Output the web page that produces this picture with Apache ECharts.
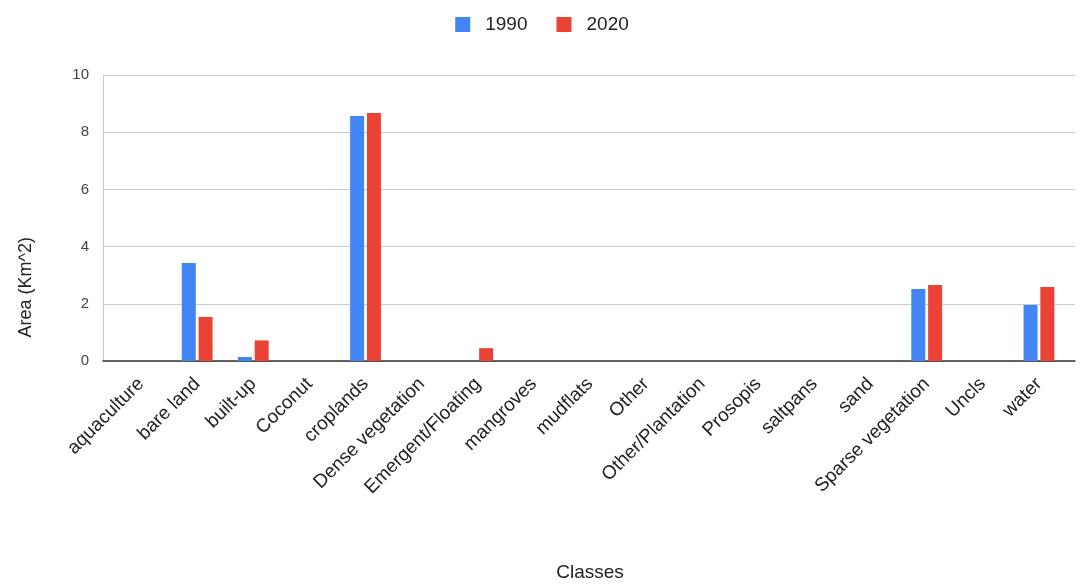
<!DOCTYPE html>
<html>
<head>
<meta charset="utf-8">
<script src="https://cdn.jsdelivr.net/npm/echarts@6/dist/echarts.min.js"></script>
<style>
  html, body { margin: 0; padding: 0; background: #fff; }
  #main { width: 1084px; height: 588px; }
</style>
</head>
<body>
<div id="main"></div>
<script>
var classes = ['aquaculture', 'bare land', 'built-up', 'Coconut', 'croplands', 'Dense vegetation',
    'Emergent/Floating', 'mangroves', 'mudflats', 'Other', 'Other/Plantation', 'Prosopis',
    'saltpans', 'sand', 'Sparse vegetation', 'Uncls', 'water'];
var area1990 = [0, 3.43, 0.14, 0, 8.57, 0, 0, 0, 0, 0, 0, 0, 0, 0, 2.52, 0, 1.96];
var area2020 = [0, 1.54, 0.72, 0, 8.67, 0, 0.45, 0, 0, 0, 0, 0, 0, 0, 2.66, 0, 2.59];
var yTicks = [0, 2, 4, 6, 8, 10];

var font = 'Arial, "Liberation Sans", sans-serif';
var myChart = echarts.init(document.getElementById('main'));

var option = {
    animation: false,
    textStyle: { fontFamily: font },
    legend: {
        top: 10,
        left: 'center',
        itemWidth: 15,
        itemHeight: 15,
        itemGap: 29,
        icon: 'rect',
        textStyle: { fontSize: 19, color: '#222', fontFamily: font, padding: [0, 0, 0, 10] },
        data: ['1990', '2020']
    },
    // outer grid: gridlines and baseline; inner grid: the bars and class labels
    grid: [
        { left: 103, right: 9, top: 75, bottom: 227 },
        { left: 113, right: 17, top: 75, bottom: 227 }
    ],
    graphic: [
        {
            type: 'text',
            left: 17,
            top: 237,
            rotation: Math.PI / 2,
            style: {
                text: 'Area (Km^2)',
                fontSize: 18,
                fontFamily: font,
                fill: '#222'
            }
        }
    ],
    xAxis: [
        {
            type: 'category',
            gridIndex: 0,
            data: classes,
            axisLine: { lineStyle: { color: '#333', width: 1.5 } },
            axisTick: { show: false },
            axisLabel: { show: false }
        },
        {
            type: 'category',
            gridIndex: 1,
            data: classes,
            name: 'Classes',
            nameLocation: 'middle',
            nameGap: 202,
            nameTextStyle: { fontSize: 19, color: '#222', fontFamily: font },
            axisLine: { show: false },
            axisTick: { show: false },
            axisLabel: {
                rotate: 45,
                interval: 0,
                margin: 20,
                fontSize: 19,
                color: '#222',
                fontFamily: font
            }
        }
    ],
    yAxis: [
        {
            type: 'value',
            gridIndex: 0,
            min: yTicks[0],
            max: yTicks[yTicks.length - 1],
            interval: 2,
            axisLine: { show: true, lineStyle: { color: '#ccc' } },
            axisTick: { show: false },
            splitLine: { lineStyle: { color: '#ccc' } },
            axisLabel: { fontSize: 15, color: '#444', margin: 14, fontFamily: font }
        },
        {
            type: 'value',
            gridIndex: 1,
            min: yTicks[0],
            max: yTicks[yTicks.length - 1],
            interval: 2,
            show: false
        }
    ],
    series: [
        {
            name: '1990',
            type: 'bar',
            xAxisIndex: 1,
            yAxisIndex: 1,
            barWidth: 14,
            barGap: '20%',
            itemStyle: { color: '#4285f4' },
            data: area1990
        },
        {
            name: '2020',
            type: 'bar',
            xAxisIndex: 1,
            yAxisIndex: 1,
            barWidth: 14,
            itemStyle: { color: '#ea4335' },
            data: area2020
        }
    ]
};

myChart.setOption(option);
</script>
</body>
</html>
